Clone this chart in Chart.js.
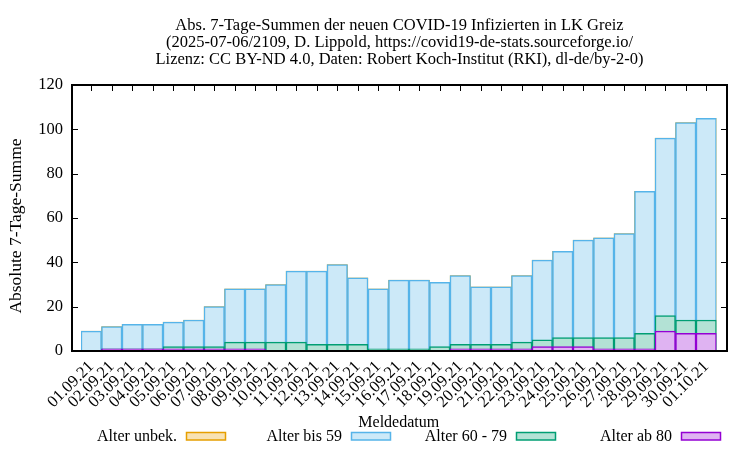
<!DOCTYPE html>
<html><head><meta charset="utf-8">
<script src="https://cdn.jsdelivr.net/npm/chart.js@4"></script>
<style>html,body{margin:0;padding:0;background:#fff}</style>
</head><body>
<canvas id="c" width="750" height="450"></canvas>
<script>
const categories = ["01.09.21","02.09.21","03.09.21","04.09.21","05.09.21","06.09.21","07.09.21","08.09.21","09.09.21","10.09.21","11.09.21","12.09.21","13.09.21","14.09.21","15.09.21","16.09.21","17.09.21","18.09.21","19.09.21","20.09.21","21.09.21","22.09.21","23.09.21","24.09.21","25.09.21","26.09.21","27.09.21","28.09.21","29.09.21","30.09.21","01.10.21"];
// cumulative sums as drawn (each band includes the ones above it)
const alterUnbek = [9,11,12,12,13,14,20,28,28,30,36,36,39,33,28,32,32,31,34,29,29,34,41,45,50,51,53,72,96,103,105];
const alterBis59 = [9,11,12,12,13,14,20,28,28,30,36,36,39,33,28,32,32,31,34,29,29,34,41,45,50,51,53,72,96,103,105];
const alter60bis79 = [0,1,1,1,2,2,2,4,4,4,4,3,3,3,1,1,1,2,3,3,3,4,5,6,6,6,6,8,16,14,14];
const alterAb80 = [0,1,1,1,1,1,1,1,1,0,0,0,0,0,0,0,0,0,1,1,1,1,2,2,2,1,1,1,9,8,8];
const yTicks = [0,20,40,60,80,100,120];
const titleLines = ["Abs. 7-Tage-Summen der neuen COVID-19 Infizierten in LK Greiz","(2025-07-06/2109, D. Lippold, https://covid19-de-stats.sourceforge.io/","Lizenz: CC BY-ND 4.0, Daten: Robert Koch-Institut (RKI), dl-de/by-2-0)"];
const seriesLabels = ["Alter unbek.","Alter bis 59","Alter 60 - 79","Alter ab 80"];
const xTitle = "Meldedatum";
const yTitle = "Absolute 7-Tage-Summe";

const FONT = "'Liberation Serif','Times New Roman',serif";
Chart.defaults.font.family = FONT;
Chart.defaults.font.size = 16;
Chart.defaults.color = '#000';

const fills = ['rgb(248,226,179)','rgb(204,233,248)','rgb(179,226,213)','rgb(223,179,242)'];
const borders = ['#e69f00','#56b4e9','#009e73','#9400d3'];
const seriesData = [alterUnbek, alterBis59, alter60bis79, alterAb80];

const decor = {
  id: 'decor',
  afterDatasetsDraw(chart) {
    const ctx = chart.ctx, ca = chart.chartArea, ys = chart.scales.y, xs = chart.scales.x;
    const L = ca.left - 9, R = ca.right + 10.5, T = ca.top, B = ca.bottom;
    ctx.save();
    ctx.strokeStyle = '#000';
    ctx.lineWidth = 1;
    ctx.beginPath();
    yTicks.forEach(v => {
      const p = Math.round(ys.getPixelForValue(v)) + 0.5;
      if (v > 0 && v < 120) {
        ctx.moveTo(L, p); ctx.lineTo(L + 6, p);
        ctx.moveTo(R, p); ctx.lineTo(R - 6, p);
      }
    });
    categories.forEach((c, i) => {
      const p = Math.round(xs.getPixelForValue(i)) + 0.5;
      ctx.moveTo(p, T); ctx.lineTo(p, T + 6);
    });
    ctx.stroke();
    ctx.lineWidth = 2;
    ctx.strokeRect(L, T, R - L, B - T);
    ctx.restore();
  },
  afterDraw(chart) {
    const ctx = chart.ctx, ca = chart.chartArea;
    const cx = ((ca.left - 9) + (ca.right + 10.5)) / 2;
    ctx.save();
    ctx.fillStyle = '#000';
    ctx.font = '16.5px ' + FONT;
    ctx.textAlign = 'center';
    ctx.textBaseline = 'middle';
    titleLines.forEach((t, i) => ctx.fillText(t, cx, 26 + i * 16.7));
    // y axis title
    ctx.save();
    ctx.font = '17.5px ' + FONT;
    ctx.translate(16, 226);
    ctx.rotate(-Math.PI / 2);
    ctx.fillText(yTitle, 0, 0);
    ctx.restore();
    // legend
    ctx.font = '16px ' + FONT;
    ctx.textAlign = 'right';
    seriesLabels.forEach((t, i) => {
      const bx = 186 + i * 165;
      ctx.fillStyle = '#000';
      ctx.fillText(t, bx - 9, 437);
      ctx.fillStyle = fills[i];
      ctx.fillRect(bx, 432, 40, 8);
      ctx.strokeStyle = borders[i];
      ctx.lineWidth = 1.5;
      ctx.strokeRect(bx + 0.5, 432.5, 39, 7.5);
    });
    ctx.restore();
  }
};

new Chart(document.getElementById('c'), {
  type: 'bar',
  data: {
    labels: categories,
    datasets: seriesData.map((d, i) => ({
      label: seriesLabels[i],
      data: d,
      backgroundColor: fills[i],
      borderColor: borders[i],
      borderWidth: 1.5,
      order: 4 - i,
      barPercentage: 1,
      categoryPercentage: 1
    }))
  },
  options: {
    responsive: false,
    animation: false,
    devicePixelRatio: 1,
    layout: { padding: { left: 0, right: 33.5, top: 85, bottom: 0 } },
    plugins: { legend: { display: false }, tooltip: { enabled: false }, title: { display: false } },
    scales: {
      x: {
        type: 'category',
        stacked: true,
        offset: true,
        grid: { display: false },
        border: { display: false },
        ticks: { autoSkip: false, maxRotation: 45, minRotation: 45, padding: -2, font: { size: 16.5 } },
        title: { display: true, text: xTitle, font: { size: 16 }, padding: { top: 0, bottom: 18 } },
        afterFit(s) { s.height = 99; }
      },
      y: {
        stacked: false,
        min: 0, max: 120,
        afterBuildTicks(s) { s.ticks = yTicks.map(v => ({ value: v })); },
        grid: { display: false, drawTicks: false },
        border: { display: false },
        ticks: { padding: 18, font: { size: 16.5 } },
        title: { display: false },
        afterFit(s) { s.width = 81; }
      }
    }
  },
  plugins: [decor]
});
</script>
</body></html>
